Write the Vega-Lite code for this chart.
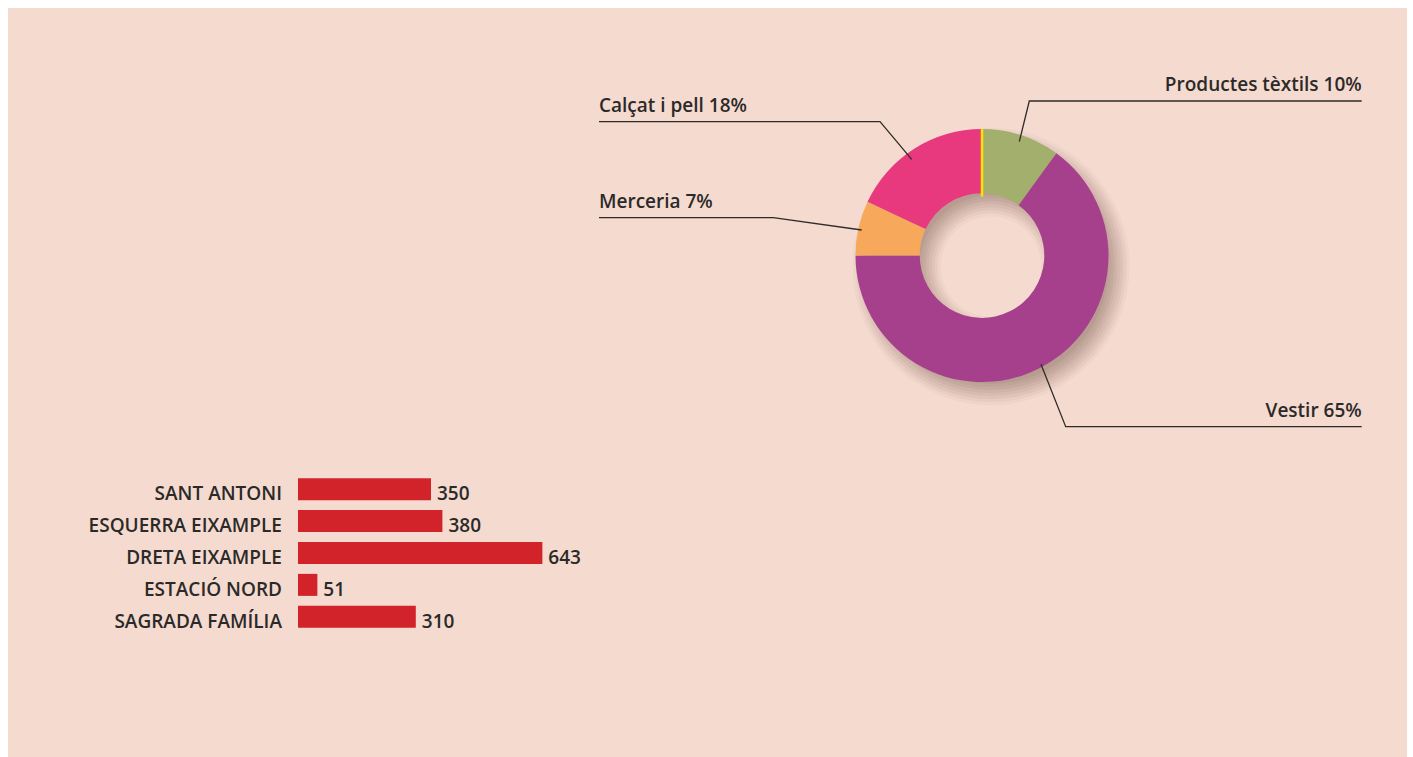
{
  "$schema": "https://vega.github.io/schema/vega-lite/v6.json",
  "width": 1413,
  "height": 757,
  "autosize": {"type": "fit", "contains": "padding"},
  "padding": {"left": 8, "top": 8, "right": 6, "bottom": 0},
  "background": "#ffffff",
  "config": {
    "view": {"stroke": null, "fill": "#f5dacf"},
    "text": {"font": "Open Sans", "fontWeight": 600, "fontSize": 19, "color": "#2b2a29"}
  },
  "datasets": {
    "segments": [
      {"cat": "Productes tèxtils", "pct": 10, "ord": 1},
      {"cat": "Vestir", "pct": 65, "ord": 2},
      {"cat": "Merceria", "pct": 7, "ord": 3},
      {"cat": "Calçat i pell", "pct": 18, "ord": 4}
    ],
    "shadowRing": [{"ring": "shadow"}],
    "leaders": [
      {"cat": "Calçat i pell", "label": "Calçat i pell 18%", "side": "left", "seq": 0, "lx": -383, "ly": 133.9},
      {"cat": "Calçat i pell", "label": "Calçat i pell 18%", "side": "left", "seq": 1, "lx": -102, "ly": 133.9},
      {"cat": "Calçat i pell", "label": "Calçat i pell 18%", "side": "left", "seq": 2, "lx": -70.3, "ly": 96.3},
      {"cat": "Merceria", "label": "Merceria 7%", "side": "left", "seq": 0, "lx": -383, "ly": 37.9},
      {"cat": "Merceria", "label": "Merceria 7%", "side": "left", "seq": 1, "lx": -208.7, "ly": 37.9},
      {"cat": "Merceria", "label": "Merceria 7%", "side": "left", "seq": 2, "lx": -120.3, "ly": 25.6},
      {"cat": "Productes tèxtils", "label": "Productes tèxtils 10%", "side": "right", "seq": 0, "lx": 379.7, "ly": 154.6},
      {"cat": "Productes tèxtils", "label": "Productes tèxtils 10%", "side": "right", "seq": 1, "lx": 47.3, "ly": 154.6},
      {"cat": "Productes tèxtils", "label": "Productes tèxtils 10%", "side": "right", "seq": 2, "lx": 37.3, "ly": 113.9},
      {"cat": "Vestir", "label": "Vestir 65%", "side": "right", "seq": 0, "lx": 379.7, "ly": -171.1},
      {"cat": "Vestir", "label": "Vestir 65%", "side": "right", "seq": 1, "lx": 83.7, "ly": -171.1},
      {"cat": "Vestir", "label": "Vestir 65%", "side": "right", "seq": 2, "lx": 59, "ly": -108.7}
    ],
    "districts": [
      {"district": "SANT ANTONI", "count": 350},
      {"district": "ESQUERRA EIXAMPLE", "count": 380},
      {"district": "DRETA EIXAMPLE", "count": 643},
      {"district": "ESTACIÓ NORD", "count": 51},
      {"district": "SAGRADA FAMÍLIA", "count": 310}
    ]
  },
  "layer": [
    {
      "layer": [
        {
          "data": {"name": "shadowRing"},
          "mark": {"type": "arc", "theta": 0, "theta2": 6.2832, "radius": 117.5, "radius2": 71.3, "xOffset": 9, "yOffset": 11, "color": "#3c2016", "opacity": 0.05},
          "encoding": {
            "x": {"datum": 0, "type": "quantitative", "scale": {"domain": [-974, 425], "nice": false, "zero": false}, "axis": null},
            "y": {"datum": 0, "type": "quantitative", "scale": {"domain": [-501.4, 247.6], "nice": false, "zero": false}, "axis": null}
          }
        },
        {
          "data": {"name": "shadowRing"},
          "mark": {"type": "arc", "theta": 0, "theta2": 6.2832, "radius": 120.5, "radius2": 68.3, "xOffset": 9, "yOffset": 11, "color": "#3c2016", "opacity": 0.05},
          "encoding": {"x": {"datum": 0, "type": "quantitative"}, "y": {"datum": 0, "type": "quantitative"}}
        },
        {
          "data": {"name": "shadowRing"},
          "mark": {"type": "arc", "theta": 0, "theta2": 6.2832, "radius": 123.5, "radius2": 65.3, "xOffset": 9, "yOffset": 11, "color": "#3c2016", "opacity": 0.05},
          "encoding": {"x": {"datum": 0, "type": "quantitative"}, "y": {"datum": 0, "type": "quantitative"}}
        },
        {
          "data": {"name": "shadowRing"},
          "mark": {"type": "arc", "theta": 0, "theta2": 6.2832, "radius": 126.5, "radius2": 62.3, "xOffset": 9, "yOffset": 11, "color": "#3c2016", "opacity": 0.05},
          "encoding": {"x": {"datum": 0, "type": "quantitative"}, "y": {"datum": 0, "type": "quantitative"}}
        },
        {
          "data": {"name": "shadowRing"},
          "mark": {"type": "arc", "theta": 0, "theta2": 6.2832, "radius": 129.5, "radius2": 59.3, "xOffset": 9, "yOffset": 11, "color": "#3c2016", "opacity": 0.05},
          "encoding": {"x": {"datum": 0, "type": "quantitative"}, "y": {"datum": 0, "type": "quantitative"}}
        },
        {
          "data": {"name": "shadowRing"},
          "mark": {"type": "arc", "theta": 0, "theta2": 6.2832, "radius": 132.5, "radius2": 56.3, "xOffset": 9, "yOffset": 11, "color": "#3c2016", "opacity": 0.045},
          "encoding": {"x": {"datum": 0, "type": "quantitative"}, "y": {"datum": 0, "type": "quantitative"}}
        },
        {
          "data": {"name": "shadowRing"},
          "mark": {"type": "arc", "theta": 0, "theta2": 6.2832, "radius": 135.5, "radius2": 53.3, "xOffset": 9, "yOffset": 11, "color": "#3c2016", "opacity": 0.04},
          "encoding": {"x": {"datum": 0, "type": "quantitative"}, "y": {"datum": 0, "type": "quantitative"}}
        },
        {
          "data": {"name": "shadowRing"},
          "mark": {"type": "arc", "theta": 0, "theta2": 6.2832, "radius": 138.5, "radius2": 50.3, "xOffset": 9, "yOffset": 11, "color": "#3c2016", "opacity": 0.03},
          "encoding": {"x": {"datum": 0, "type": "quantitative"}, "y": {"datum": 0, "type": "quantitative"}}
        },
        {
          "data": {"name": "segments"},
          "mark": {"type": "arc", "radius": 126.5, "radius2": 62.3},
          "encoding": {
            "x": {"datum": 0, "type": "quantitative"},
            "y": {"datum": 0, "type": "quantitative"},
            "theta": {"field": "pct", "type": "quantitative", "stack": true},
            "order": {"field": "ord", "type": "quantitative"},
            "color": {
              "field": "cat",
              "type": "nominal",
              "scale": {
                "domain": ["Productes tèxtils", "Vestir", "Merceria", "Calçat i pell"],
                "range": ["#a3b06d", "#a6408c", "#f7a85a", "#e8397e"]
              },
              "legend": null
            }
          }
        },
        {
          "data": {"values": [{"mark": "separator"}]},
          "mark": {"type": "rule", "color": "#ffe100", "strokeWidth": 2.5},
          "encoding": {
            "x": {"datum": 0, "type": "quantitative"},
            "y": {"datum": 59, "type": "quantitative"},
            "y2": {"datum": 126.5}
          }
        },
        {
          "data": {"name": "leaders"},
          "mark": {"type": "line", "color": "#2f2b2a", "strokeWidth": 1.3},
          "encoding": {
            "x": {"field": "lx", "type": "quantitative"},
            "y": {"field": "ly", "type": "quantitative"},
            "detail": {"field": "cat"},
            "order": {"field": "seq"}
          }
        },
        {
          "data": {"name": "leaders"},
          "transform": [{"filter": "datum.seq == 0 && datum.side == 'left'"}],
          "mark": {"type": "text", "align": "left", "baseline": "alphabetic", "dy": -10},
          "encoding": {
            "x": {"field": "lx", "type": "quantitative"},
            "y": {"field": "ly", "type": "quantitative"},
            "text": {"field": "label"}
          }
        },
        {
          "data": {"name": "leaders"},
          "transform": [{"filter": "datum.seq == 0 && datum.side == 'right'"}],
          "mark": {"type": "text", "align": "right", "baseline": "alphabetic", "dy": -10},
          "encoding": {
            "x": {"field": "lx", "type": "quantitative"},
            "y": {"field": "ly", "type": "quantitative"},
            "text": {"field": "label"}
          }
        }
      ]
    },
    {
      "data": {"name": "districts"},
      "encoding": {
        "y": {
          "field": "district",
          "type": "nominal",
          "sort": null,
          "scale": {"range": [465.3, 624.7], "paddingInner": 0.31, "paddingOuter": 0.155},
          "axis": null
        }
      },
      "layer": [
        {
          "mark": {"type": "bar", "color": "#d2232a"},
          "encoding": {
            "x": {"field": "count", "type": "quantitative", "scale": {"domain": [-763, 2918], "nice": false, "zero": false}, "axis": null},
            "x2": {"datum": 0}
          }
        },
        {
          "mark": {"type": "text", "align": "right", "baseline": "alphabetic", "dx": -16, "dy": 11},
          "encoding": {
            "x": {"datum": 0, "type": "quantitative"},
            "text": {"field": "district"}
          }
        },
        {
          "mark": {"type": "text", "align": "left", "baseline": "alphabetic", "dx": 6, "dy": 11},
          "encoding": {
            "x": {"field": "count", "type": "quantitative"},
            "text": {"field": "count"}
          }
        }
      ]
    }
  ],
  "resolve": {"scale": {"x": "independent", "y": "independent"}}
}
